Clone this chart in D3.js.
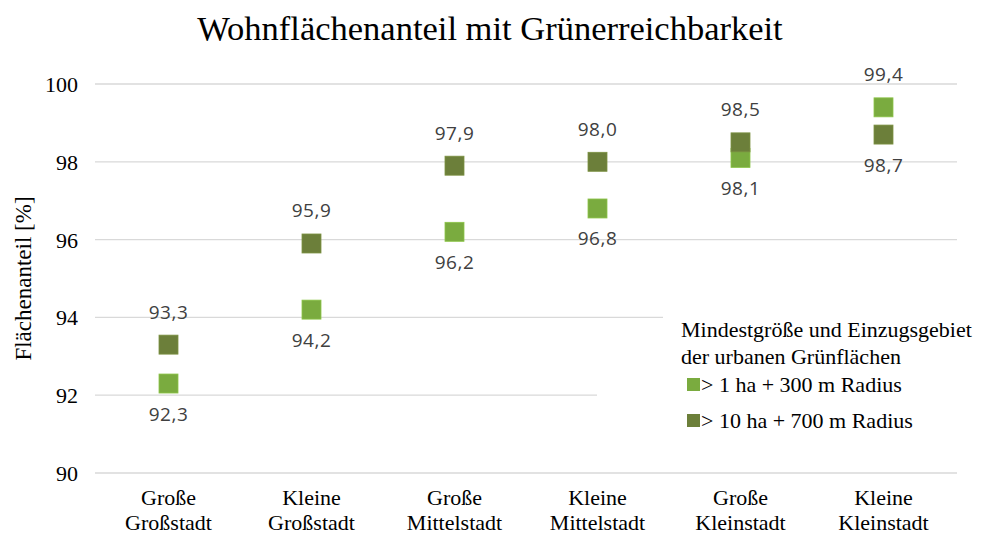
<!DOCTYPE html>
<html>
<head>
<meta charset="utf-8">
<script src="https://cdn.jsdelivr.net/npm/d3@7"></script>
<style>
  body { margin: 0; background: #fff; }
  svg { display: block; }
  .serif { font-family: "Liberation Serif", "Times New Roman", serif; fill: #000; }
  .lbl { font-family: "Open Sans", sans-serif; fill: #404040; }
</style>
</head>
<body>
<svg id="chart" width="985" height="533"></svg>
<script>
// data
const categories = [
  ["Große", "Großstadt"],
  ["Kleine", "Großstadt"],
  ["Große", "Mittelstadt"],
  ["Kleine", "Mittelstadt"],
  ["Große", "Kleinstadt"],
  ["Kleine", "Kleinstadt"]
];
const small300 = [92.3, 94.2, 96.2, 96.8, 98.1, 99.4];
const large700 = [93.3, 95.9, 97.9, 98.0, 98.5, 98.7];
const yTicks = [90, 92, 94, 96, 98, 100];
const seriesNames = ["> 1 ha + 300 m Radius", "> 10 ha + 700 m Radius"];
const legendTitle = ["Mindestgröße und Einzugsgebiet", "der urbanen Grünflächen"];

const colors = ["#7aab3f", "#6c7f3a"];

const svg = d3.select("#chart");

const x = d3.scaleBand()
  .domain(d3.range(categories.length))
  .range([97, 955]);

const y = d3.scaleLinear()
  .domain([90, 100])
  .range([473, 84]);

// title
svg.append("text")
  .attr("class", "serif")
  .attr("x", 490)
  .attr("y", 40)
  .attr("text-anchor", "middle")
  .style("font-size", "34.5px")
  .text("Wohnflächenanteil mit Grünerreichbarkeit");

// gridlines
svg.append("g")
  .selectAll("line")
  .data(yTicks)
  .join("line")
  .attr("x1", 95)
  .attr("x2", 957)
  .attr("y1", d => y(d))
  .attr("y2", d => y(d))
  .attr("stroke", "#d9d9d9")
  .attr("stroke-width", 1.3);

// y axis
const yAxis = d3.axisLeft(y).tickValues(yTicks).tickSize(0).tickPadding(0);
const yg = svg.append("g")
  .attr("transform", "translate(78,0)")
  .call(yAxis);
yg.select(".domain").remove();
yg.selectAll("text")
  .attr("class", "serif")
  .attr("fill", "#000")
  .attr("dy", "0.34em")
  .style("font-size", "22px");

svg.append("text")
  .attr("class", "serif")
  .attr("transform", "translate(31," + ((y(90) + y(100)) / 2) + ") rotate(-90)")
  .attr("text-anchor", "middle")
  .style("font-size", "23px")
  .text("Flächenanteil [%]");

// x axis labels
const xg = svg.append("g");
categories.forEach((c, i) => {
  const t = xg.append("text")
    .attr("class", "serif")
    .attr("text-anchor", "middle")
    .style("font-size", "22px");
  c.forEach((line, j) => {
    t.append("tspan")
      .attr("x", x(i) + x.bandwidth() / 2)
      .attr("y", 505 + j * 24.5)
      .text(line);
  });
});

// legend background
svg.append("rect")
  .attr("x", 663).attr("y", 310).attr("width", 300).attr("height", 130)
  .attr("fill", "#fff");
svg.append("rect")
  .attr("x", 597).attr("y", 385).attr("width", 370).attr("height", 60)
  .attr("fill", "#fff");

// markers
const size = 19;
const series = [small300, large700];
series.forEach((vals, s) => {
  svg.append("g")
    .selectAll("rect")
    .data(vals)
    .join("rect")
    .attr("x", (d, i) => x(i) + x.bandwidth() / 2 - size / 2)
    .attr("y", d => y(d) - size / 2)
    .attr("width", size)
    .attr("height", size)
    .attr("fill", colors[s])
    .attr("stroke", d3.color(colors[s]).brighter(0.4))
    .attr("stroke-width", 0.8);
});

// data labels: higher value above, lower value below
const fmt = v => d3.format(".1f")(v).replace(".", ",");
categories.forEach((c, i) => {
  const a = small300[i], b = large700[i];
  const hi = Math.max(a, b), lo = Math.min(a, b);
  svg.append("text")
    .attr("class", "lbl")
    .attr("x", x(i) + x.bandwidth() / 2)
    .attr("y", y(hi) - 26)
    .attr("text-anchor", "middle")
    .style("font-size", "19px")
    .style("letter-spacing", "0.5px")
    .text(fmt(hi));
  svg.append("text")
    .attr("class", "lbl")
    .attr("x", x(i) + x.bandwidth() / 2)
    .attr("y", y(lo) + 37)
    .attr("text-anchor", "middle")
    .style("font-size", "19px")
    .style("letter-spacing", "0.5px")
    .text(fmt(lo));
});

// legend
const lg = svg.append("g");
legendTitle.forEach((t, j) => {
  lg.append("text")
    .attr("class", "serif")
    .attr("x", 681)
    .attr("y", 337 + j * 27)
    .style("font-size", "22px")
    .text(t);
});
seriesNames.forEach((n, s) => {
  const base = 392 + s * 36;
  lg.append("rect")
    .attr("x", 687).attr("y", base - 14)
    .attr("width", 13).attr("height", 13)
    .attr("fill", colors[s]);
  lg.append("text")
    .attr("class", "serif")
    .attr("x", 701)
    .attr("y", base)
    .style("font-size", "22px")
    .text(n);
});
</script>
</body>
</html>
